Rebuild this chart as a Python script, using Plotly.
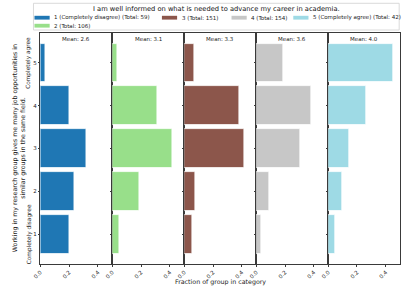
import plotly.graph_objects as go

# ---------------- data ----------------
categories = [1, 2, 3, 4, 5]
group_labels = ["1 (Completely disagree)", "2", "3", "4", "5 (Completely agree)"]
group_colors = ["#1f77b4", "#98df8a", "#8c564b", "#c7c7c7", "#9edae5"]
# counts of answers 1..5 (y category) within each group
counts_g1 = [12, 14, 19, 12, 2]
counts_g2 = [5, 20, 44, 33, 4]
counts_g3 = [8, 12, 63, 58, 10]
counts_g4 = [5, 14, 47, 59, 29]
counts_g5 = [2, 4, 6, 11, 19]
group_counts = [counts_g1, counts_g2, counts_g3, counts_g4, counts_g5]
x_ticks = [0.0, 0.2, 0.4]
x_tick_labels = ["0.0", "0.2", "0.4"]
title_text = "I am well informed on what is needed to advance my career in academia."
ylabel_text = ("Working in my research group gives me many job opportunities in<br>"
               "similar groups in the same field.")
xlabel_text = "Fraction of group in category"
low_label = "Completely disagree"
high_label = "Completely agree"

# ---------------- layout constants ----------------
W, H = 407, 291
FONT = "DejaVu Sans"
left, right = 33, 400
top, bottom = 33, 264
n = len(group_counts)
pw = (right - left) / n
ydom = [1 - bottom / H, 1 - top / H]
AX = "#3a3a3a"

fig = go.Figure()
annotations = []
shapes = []

for i, (counts, color) in enumerate(zip(group_counts, group_colors)):
    k = "" if i == 0 else str(i + 1)
    total = sum(counts)
    frac = [c / total for c in counts]
    mean = sum(c * v for c, v in zip(counts, categories)) / total
    fig.add_trace(go.Bar(
        x=frac, y=categories, orientation="h", width=0.9,
        marker=dict(color=color, line=dict(color="white", width=0.8)),
        xaxis="x" + k, yaxis="y" + k, showlegend=False,
    ))
    x0 = left + i * pw
    fig.layout["xaxis" + k] = dict(
        domain=[x0 / W, (x0 + pw) / W], anchor="y" + k, range=[0, 0.5],
        tickvals=x_ticks, ticktext=x_tick_labels, tickangle=-45,
        tickfont=dict(size=5.5, family=FONT, color="#222"),
        ticks="outside", ticklen=2, tickwidth=0.8, tickcolor=AX,
        showline=True, linecolor=AX, linewidth=1, mirror=True,
        showgrid=False, zeroline=False, fixedrange=True,
    )
    fig.layout["yaxis" + k] = dict(
        domain=ydom, anchor="x" + k, range=[0.305, 5.695],
        tickvals=categories, showticklabels=(i == 0),
        tickfont=dict(size=5.5, family=FONT, color="#222"),
        ticks="outside", ticklen=1.5, tickwidth=0.8, tickcolor=AX,
        showline=True, linecolor=AX, linewidth=1, mirror=True,
        showgrid=False, zeroline=False, fixedrange=True,
    )
    annotations.append(dict(
        xref="x" + k + " domain", x=0.5, yref="paper", y=1 - 39.3 / H,
        text=f"Mean: {mean:.1f}", showarrow=False, xanchor="center", yanchor="middle",
        font=dict(size=5.5, family=FONT, color="#222"),
    ))

# ---------------- legend (matplotlib-style, column-major, 4 columns) ----------------
shapes.append(dict(type="rect", xref="paper", yref="paper",
                   x0=26 / W, x1=399 / W, y0=1 - 30 / H, y1=1 - 3.3 / H,
                   line=dict(color="#d0d0d0", width=0.8), fillcolor="white", layer="above"))
annotations.append(dict(xref="paper", yref="paper", x=212.5 / W, y=1 - 9 / H,
                        text=title_text, showarrow=False, xanchor="center", yanchor="middle",
                        font=dict(size=6.7, family=FONT, color="#111")))
legend_slots = [(27, 17.7), (27, 25.7), (157, 17.7), (228, 17.7), (291, 17.7)]
for (sx, sy), lab, counts, color in zip(legend_slots, group_labels, group_counts, group_colors):
    shapes.append(dict(type="rect", xref="paper", yref="paper",
                       x0=sx / W, x1=(sx + 15.5) / W, y0=1 - (sy + 1.9) / H, y1=1 - (sy - 1.9) / H,
                       line=dict(width=0), fillcolor=color, layer="above"))
    annotations.append(dict(xref="paper", yref="paper", x=(sx + 18) / W, y=1 - sy / H,
                            text=f"{lab} (Total: {sum(counts)})", showarrow=False,
                            xanchor="left", yanchor="middle",
                            font=dict(size=5.5, family=FONT, color="#222")))

# ---------------- axis titles ----------------
annotations.append(dict(xref="paper", yref="paper", x=11 / W, y=1 - 148.5 / H,
                        text=ylabel_text, textangle=-90, showarrow=False,
                        xanchor="center", yanchor="middle",
                        font=dict(size=6.3, family=FONT, color="#222")))
annotations.append(dict(xref="paper", yref="y", x=21.5 / W, y=categories[-1],
                        text=high_label, textangle=-90, showarrow=False,
                        xanchor="center", yanchor="middle",
                        font=dict(size=5.8, family=FONT, color="#222")))
annotations.append(dict(xref="paper", yref="y", x=21.5 / W, y=categories[0],
                        text=low_label, textangle=-90, showarrow=False,
                        xanchor="center", yanchor="middle",
                        font=dict(size=5.8, family=FONT, color="#222")))
annotations.append(dict(xref="paper", yref="paper", x=217 / W, y=1 - 281.7 / H,
                        text=xlabel_text, showarrow=False, xanchor="center", yanchor="middle",
                        font=dict(size=6.3, family=FONT, color="#222")))

fig.update_layout(
    width=W, height=H, margin=dict(l=0, r=0, t=0, b=0),
    paper_bgcolor="white", plot_bgcolor="white",
    font=dict(family=FONT, size=6, color="#222"),
    bargap=0, annotations=annotations, shapes=shapes, showlegend=False,
)
fig.write_html(
    "out.html",
    config={"displayModeBar": False},
    post_script="document.body.style.margin='0';document.body.style.padding='0';"
                "document.body.style.overflow='hidden';",
)
